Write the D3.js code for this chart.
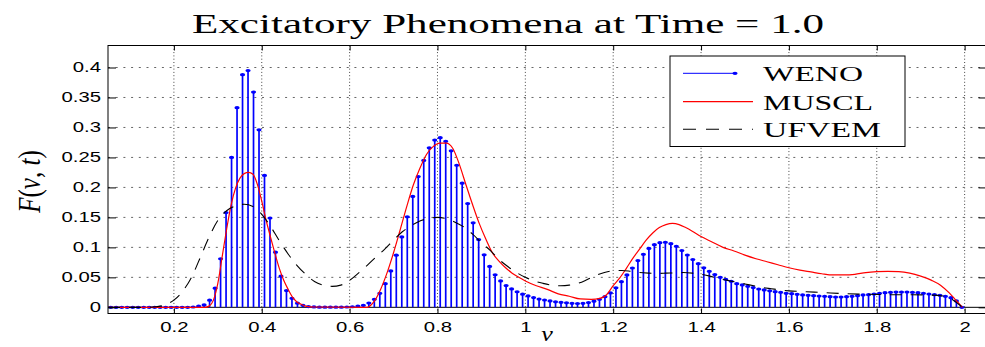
<!DOCTYPE html>
<html>
<head>
<meta charset="utf-8">
<script src="https://cdn.jsdelivr.net/npm/d3@7"></script>
<style>
  body { margin: 0; background: #fff; }
</style>
</head>
<body>
<div class="chart"></div>
<script>
// WENO cell averages, cells centred at 0.05625 + i * 0.0125 (visible part of [0, 2])
const wenoX0 = 0.05625;
const wenoDx = 0.0125;
const weno = [
  0, 0, 0, 0, 0, 0, 0, 0, 0, 0,
  0, 0, 0, 0, 0, 0.0005, 0.002, 0.004, 0.012, 0.032,
  0.081, 0.158, 0.25, 0.333, 0.388, 0.395, 0.359, 0.296, 0.22, 0.149,
  0.092, 0.052, 0.028, 0.015, 0.007, 0.0033, 0.0012, 0.0006, 0.0003, 0.0002,
  0.0002, 0.0002, 0.0003, 0.0005, 0.001, 0.002, 0.0033, 0.0072, 0.0134, 0.0234,
  0.0395, 0.0607, 0.087, 0.1175, 0.151, 0.185, 0.218, 0.245, 0.266, 0.279,
  0.283, 0.277, 0.261, 0.237, 0.207, 0.173, 0.141, 0.113, 0.0875, 0.0683,
  0.0543, 0.044, 0.0362, 0.0307, 0.026, 0.022, 0.019, 0.0162, 0.0137, 0.0122,
  0.0106, 0.0092, 0.0084, 0.0075, 0.0067, 0.0064, 0.0066, 0.008, 0.0102, 0.0133,
  0.0178, 0.0241, 0.0325, 0.0428, 0.054, 0.0656, 0.0779, 0.0884, 0.0982, 0.1045,
  0.1079, 0.1085, 0.1062, 0.1018, 0.0948, 0.0873, 0.0798, 0.0728, 0.0659, 0.0601,
  0.0546, 0.0501, 0.0468, 0.0434, 0.0395, 0.0373, 0.0351, 0.0329, 0.0306, 0.029,
  0.0275, 0.0261, 0.025, 0.0233, 0.0228, 0.0217, 0.0206, 0.02, 0.0194, 0.0189,
  0.0183, 0.0178, 0.0172, 0.0172, 0.0178, 0.0183, 0.0194, 0.0206, 0.0211, 0.0222,
  0.0233, 0.0244, 0.025, 0.0256, 0.0256, 0.0256, 0.025, 0.0244, 0.0233, 0.0222,
  0.0211, 0.02, 0.0183, 0.0161, 0.0106, 0
];

const musclX = [
  0.05, 0.27, 0.28, 0.29, 0.30, 0.31, 0.32, 0.33, 0.34, 0.35, 0.36, 0.37, 0.38, 0.39,
  0.40, 0.41, 0.42, 0.43, 0.44, 0.45, 0.46, 0.47, 0.48, 0.49, 0.50, 0.52, 0.64, 0.655,
  0.67, 0.685, 0.70, 0.715, 0.73, 0.745, 0.76, 0.775, 0.79, 0.805, 0.82, 0.835, 0.85,
  0.865, 0.88, 0.895, 0.91, 0.925, 0.94, 0.955, 0.97, 0.985, 1.00, 1.025, 1.05, 1.075,
  1.10, 1.125, 1.15, 1.17, 1.185, 1.20, 1.215, 1.23, 1.245, 1.26, 1.275, 1.29, 1.305,
  1.32, 1.335, 1.35, 1.365, 1.38, 1.40, 1.425, 1.45, 1.475, 1.50, 1.525, 1.55, 1.575,
  1.60, 1.625, 1.65, 1.675, 1.70, 1.725, 1.75, 1.775, 1.80, 1.825, 1.85, 1.875, 1.90,
  1.925, 1.945, 1.965, 1.98, 1.995
];
const musclY = [
  0, 0, 0.002, 0.012, 0.04, 0.085, 0.13, 0.17, 0.198, 0.215, 0.223, 0.225, 0.222, 0.205,
  0.177, 0.145, 0.117, 0.09, 0.065, 0.045, 0.03, 0.017, 0.009, 0.005, 0.002, 0.0005, 0, 0.009,
  0.029, 0.057, 0.091, 0.129, 0.168, 0.204, 0.232, 0.255, 0.268, 0.274, 0.274, 0.265, 0.238,
  0.204, 0.171, 0.14, 0.114, 0.091, 0.077, 0.066, 0.057, 0.05, 0.044, 0.036, 0.03, 0.0225,
  0.0185, 0.014, 0.0133, 0.015, 0.021, 0.036, 0.049, 0.065, 0.082, 0.097, 0.112, 0.124, 0.133,
  0.138, 0.14, 0.138, 0.133, 0.127, 0.118, 0.109, 0.1, 0.094, 0.087, 0.081, 0.076, 0.071,
  0.066, 0.062, 0.059, 0.056, 0.054, 0.054, 0.055, 0.058, 0.0595, 0.06, 0.0595, 0.057, 0.052,
  0.045, 0.037, 0.024, 0.012, 0
];

const ufvemX = [
  0.05, 0.14, 0.16, 0.18, 0.20, 0.22, 0.24, 0.26, 0.28, 0.30, 0.32, 0.34, 0.36, 0.38, 0.40,
  0.42, 0.44, 0.46, 0.48, 0.50, 0.52, 0.54, 0.56, 0.58, 0.60, 0.62, 0.64, 0.66, 0.68, 0.70,
  0.72, 0.74, 0.76, 0.78, 0.80, 0.82, 0.84, 0.86, 0.88, 0.90, 0.92, 0.94, 0.96, 0.98, 1.00,
  1.02, 1.04, 1.06, 1.08, 1.10, 1.12, 1.14, 1.16, 1.18, 1.20, 1.22, 1.24, 1.26, 1.28, 1.30,
  1.32, 1.34, 1.36, 1.38, 1.40, 1.42, 1.44, 1.46, 1.48, 1.50, 1.52, 1.54, 1.56, 1.58, 1.60,
  1.64, 1.68, 1.72, 1.76, 1.80, 1.84, 1.88, 1.92, 1.95, 1.97, 1.985, 1.995
];
const ufvemY = [
  0, 0, 0.001, 0.004, 0.012, 0.027, 0.05, 0.083, 0.117, 0.145, 0.161, 0.169, 0.172, 0.168, 0.155,
  0.135, 0.111, 0.089, 0.07, 0.055, 0.043, 0.037, 0.035, 0.037, 0.045, 0.057, 0.07, 0.084, 0.097, 0.112,
  0.126, 0.136, 0.144, 0.148, 0.15, 0.148, 0.142, 0.134, 0.122, 0.108, 0.095, 0.08, 0.068, 0.058, 0.05,
  0.044, 0.04, 0.037, 0.036, 0.037, 0.04, 0.046, 0.053, 0.058, 0.061, 0.0615, 0.06, 0.058, 0.057, 0.0565,
  0.057, 0.0575, 0.058, 0.057, 0.055, 0.052, 0.048, 0.045, 0.042, 0.039, 0.036, 0.033, 0.031, 0.029, 0.0275,
  0.026, 0.0245, 0.023, 0.022, 0.0215, 0.021, 0.021, 0.0205, 0.019, 0.014, 0.006, 0
];

const xTicks = [0.2, 0.4, 0.6, 0.8, 1.0, 1.2, 1.4, 1.6, 1.8, 2.0];
const xTickLabels = ["0.2", "0.4", "0.6", "0.8", "1", "1.2", "1.4", "1.6", "1.8", "2"];
const yTicks = [0, 0.05, 0.1, 0.15, 0.2, 0.25, 0.3, 0.35, 0.4];
const yTickLabels = ["0", "0.05", "0.1", "0.15", "0.2", "0.25", "0.3", "0.35", "0.4"];
const legendNames = ["WENO", "MUSCL", "UFVEM"];

const totalWidth = 985;
const totalHeight = 347;
const plotLeft = 108, plotRight = 986.6, plotTop = 45.5, plotBottom = 313.5;
const stretchK = 1.45; // the figure was widened, text too

const svg = d3
  .select(".chart")
  .append("svg")
  .attr("width", totalWidth)
  .attr("height", totalHeight);

const xScale = d3.scaleLinear().domain([0.05, 2.05]).range([plotLeft, plotRight]);
const yScale = d3.scaleLinear().domain([-0.0103, 0.4367]).range([plotBottom, plotTop]);

svg
  .append("defs")
  .append("clipPath")
  .attr("id", "plotClip")
  .append("rect")
  .attr("x", plotLeft)
  .attr("y", plotTop)
  .attr("width", plotRight - plotLeft)
  .attr("height", plotBottom - plotTop);

// widen text horizontally, keeping the anchor where d3 put it
function stretch(sel, anchor) {
  sel.each(function () {
    const t = d3.select(this);
    const w = this.getComputedTextLength() * stretchK;
    const x0 = +t.attr("x") || 0;
    t.attr("textLength", w)
      .attr("lengthAdjust", "spacingAndGlyphs")
      .attr("text-anchor", "start")
      .attr("x", anchor === "end" ? x0 - w : anchor === "middle" ? x0 - w / 2 : x0);
  });
}

// grid
const gridGroup = svg.append("g");
gridGroup
  .selectAll(".vgrid")
  .data(xTicks)
  .enter()
  .append("line")
  .attr("x1", (d) => xScale(d))
  .attr("x2", (d) => xScale(d))
  .attr("y1", plotTop)
  .attr("y2", plotBottom)
  .attr("stroke", "#444")
  .attr("stroke-width", 1)
  .attr("stroke-dasharray", "1,2.3");

gridGroup
  .selectAll(".hgrid")
  .data(yTicks.slice(1))
  .enter()
  .append("line")
  .attr("x1", plotLeft)
  .attr("x2", plotRight)
  .attr("y1", (d) => yScale(d))
  .attr("y2", (d) => yScale(d))
  .attr("stroke", "#666")
  .attr("stroke-width", 1)
  .attr("stroke-dasharray", "2,5.7");

const plotGroup = svg.append("g").attr("clip-path", "url(#plotClip)");

// stem baseline
plotGroup
  .append("line")
  .attr("x1", plotLeft)
  .attr("x2", plotRight)
  .attr("y1", yScale(0))
  .attr("y2", yScale(0))
  .attr("stroke", "black")
  .attr("stroke-width", 1);

const wenoData = weno.map((v, i) => ({ x: wenoX0 + i * wenoDx, y: v }));

plotGroup
  .selectAll(".stem")
  .data(wenoData)
  .enter()
  .append("line")
  .attr("x1", (d) => xScale(d.x))
  .attr("x2", (d) => xScale(d.x))
  .attr("y1", yScale(0))
  .attr("y2", (d) => yScale(d.y))
  .attr("stroke", "#0000ff")
  .attr("stroke-width", 1.7);

plotGroup
  .selectAll(".mark")
  .data(wenoData)
  .enter()
  .append("ellipse")
  .attr("cx", (d) => xScale(d.x))
  .attr("cy", (d) => yScale(d.y))
  .attr("rx", 2.6)
  .attr("ry", 1.6)
  .attr("fill", "#0000ff");

const line = d3
  .line()
  .curve(d3.curveMonotoneX)
  .x((d) => xScale(d[0]))
  .y((d) => yScale(d[1]));

plotGroup
  .append("path")
  .datum(d3.zip(musclX, musclY))
  .attr("fill", "none")
  .attr("stroke", "#ff0000")
  .attr("stroke-width", 1.2)
  .attr("d", line);

plotGroup
  .append("path")
  .datum(d3.zip(ufvemX, ufvemY))
  .attr("fill", "none")
  .attr("stroke", "black")
  .attr("stroke-width", 1.1)
  .attr("stroke-dasharray", "12,9")
  .attr("d", line);

// axes, ticks inside on all four sides
const xAxisGroup = svg
  .append("g")
  .attr("transform", `translate(0, ${plotBottom})`)
  .call(
    d3.axisBottom(xScale)
      .tickValues(xTicks)
      .tickFormat((d, i) => xTickLabels[i])
      .tickSize(-5)
      .tickPadding(9)
  );

svg
  .append("g")
  .attr("transform", `translate(0, ${plotTop})`)
  .call(d3.axisTop(xScale).tickValues(xTicks).tickFormat("").tickSize(-5));

const yAxisGroup = svg
  .append("g")
  .attr("transform", `translate(${plotLeft}, 0)`)
  .call(
    d3.axisLeft(yScale)
      .tickValues(yTicks)
      .tickFormat((d, i) => yTickLabels[i])
      .tickSize(-8)
      .tickPadding(7)
  );

svg
  .append("g")
  .attr("transform", `translate(${plotRight}, 0)`)
  .call(d3.axisRight(yScale).tickValues(yTicks).tickFormat("").tickSize(-8));

svg.selectAll(".domain").remove();
svg.selectAll(".tick line").attr("stroke", "black").attr("stroke-width", 1);
svg
  .selectAll(".tick text")
  .attr("font-family", "'Liberation Sans', Arial, sans-serif")
  .attr("font-size", 14)
  .attr("fill", "black");

xAxisGroup.selectAll(".tick text").call(stretch, "middle");
yAxisGroup.selectAll(".tick text").call(stretch, "end");

svg
  .append("rect")
  .attr("x", plotLeft)
  .attr("y", plotTop)
  .attr("width", plotRight - plotLeft)
  .attr("height", plotBottom - plotTop)
  .attr("fill", "none")
  .attr("stroke", "black")
  .attr("stroke-width", 1);

// title and axis labels
svg
  .append("text")
  .attr("x", 192)
  .attr("y", 33)
  .attr("font-family", "'Liberation Serif', 'Times New Roman', serif")
  .attr("font-size", 28)
  .attr("textLength", 632)
  .attr("lengthAdjust", "spacingAndGlyphs")
  .text("Excitatory Phenomena at Time = 1.0");

const yLabel = svg
  .append("text")
  .attr("transform", "translate(30, 181.5) scale(1.3, 1) rotate(-90)")
  .attr("text-anchor", "middle")
  .attr("dy", "0.32em")
  .attr("font-family", "'Liberation Serif', 'Times New Roman', serif")
  .attr("font-size", 25);
yLabel.append("tspan").attr("font-style", "italic").text("F");
yLabel.append("tspan").text("(");
yLabel.append("tspan").attr("font-style", "italic").text("v");
yLabel.append("tspan").text(", ");
yLabel.append("tspan").attr("font-style", "italic").text("t");
yLabel.append("tspan").text(")");

// x label sits near the bottom edge, as in the original
svg
  .append("text")
  .attr("transform", "translate(547, 341) scale(1.3, 1)")
  .attr("text-anchor", "middle")
  .attr("font-family", "'Liberation Serif', 'Times New Roman', serif")
  .attr("font-style", "italic")
  .attr("font-size", 20)
  .text("v");

// legend
const legend = svg.append("g");
legend
  .append("rect")
  .attr("x", 670)
  .attr("y", 56)
  .attr("width", 235)
  .attr("height", 90.5)
  .attr("fill", "white")
  .attr("stroke", "black")
  .attr("stroke-width", 1);

const legendY = [73.3, 101.7, 129.3];
const legendTextLen = [100, 110, 118];

legend
  .append("line")
  .attr("x1", 683)
  .attr("x2", 735)
  .attr("y1", legendY[0])
  .attr("y2", legendY[0])
  .attr("stroke", "#0000ff")
  .attr("stroke-width", 1);
legend
  .append("ellipse")
  .attr("cx", 735)
  .attr("cy", legendY[0])
  .attr("rx", 2.6)
  .attr("ry", 1.6)
  .attr("fill", "#0000ff");

legend
  .append("line")
  .attr("x1", 683)
  .attr("x2", 753)
  .attr("y1", legendY[1])
  .attr("y2", legendY[1])
  .attr("stroke", "#ff0000")
  .attr("stroke-width", 1.2);

legend
  .append("line")
  .attr("x1", 683)
  .attr("x2", 753)
  .attr("y1", legendY[2])
  .attr("y2", legendY[2])
  .attr("stroke", "black")
  .attr("stroke-width", 1.1)
  .attr("stroke-dasharray", "13,10");

legend
  .selectAll(".legend-text")
  .data(legendNames)
  .enter()
  .append("text")
  .attr("x", 763)
  .attr("y", (d, i) => legendY[i] + 8)
  .attr("font-family", "'Liberation Serif', 'Times New Roman', serif")
  .attr("font-size", 22)
  .attr("textLength", (d, i) => legendTextLen[i])
  .attr("lengthAdjust", "spacingAndGlyphs")
  .text((d) => d);
</script>
</body>
</html>
